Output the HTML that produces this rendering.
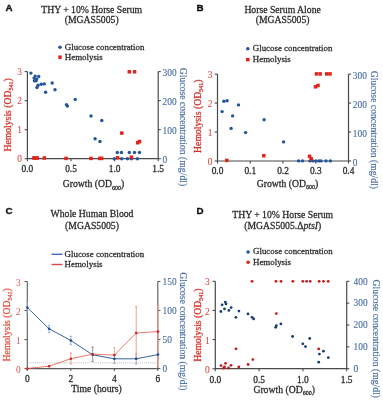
<!DOCTYPE html><html><head><meta charset="utf-8"><style>html,body{margin:0;padding:0;background:#fff;width:383px;height:400px;overflow:hidden}svg{display:block;filter:blur(0.35px)}</style></head><body><svg width="383" height="400" viewBox="0 0 383 400">
<rect width="383" height="400" fill="#fff"/>
<text x="5.6" y="11.200000000000001" font-size="9.8" text-anchor="start" fill="#111" stroke="#111" stroke-width="0.35" font-family='"Liberation Sans", sans-serif' font-weight="bold">A</text>
<text x="91.7" y="12.700000000000001" font-size="9.7" text-anchor="middle" fill="#2a2a2a" stroke="#2a2a2a" stroke-width="0.26" font-family='"Liberation Serif", serif' >THY + 10% Horse Serum</text>
<text x="91.7" y="23.4" font-size="9.7" text-anchor="middle" fill="#2a2a2a" stroke="#2a2a2a" stroke-width="0.26" font-family='"Liberation Serif", serif' >(MGAS5005)</text>
<circle cx="60" cy="47.300000000000004" r="1.8" fill="#21569c"/>
<rect x="58.25" y="55.45" width="3.5" height="3.5" fill="#e2231a"/>
<text x="64.8" y="49.7" font-size="8.9" text-anchor="start" fill="#2a2a2a" stroke="#2a2a2a" stroke-width="0.26" font-family='"Liberation Serif", serif' >Glucose concentration</text>
<text x="64.8" y="59.6" font-size="8.9" text-anchor="start" fill="#2a2a2a" stroke="#2a2a2a" stroke-width="0.26" font-family='"Liberation Serif", serif' >Hemolysis</text>
<path d="M27.4,71.6 V158.7 H158.2 V71.6" fill="none" stroke="#4a4a4a" stroke-width="1.2"/>
<line x1="24.599999999999998" y1="158.7" x2="27.4" y2="158.7" stroke="#4a4a4a" stroke-width="1.1"/>
<text x="21.9" y="162.4" font-size="9.4" text-anchor="end" fill="#dc4a42" stroke="#dc4a42" stroke-width="0.08" font-family='"Liberation Serif", serif' >0</text>
<line x1="24.599999999999998" y1="129.66666666666666" x2="27.4" y2="129.66666666666666" stroke="#4a4a4a" stroke-width="1.1"/>
<text x="21.9" y="133.36666666666667" font-size="9.4" text-anchor="end" fill="#dc4a42" stroke="#dc4a42" stroke-width="0.08" font-family='"Liberation Serif", serif' >1</text>
<line x1="24.599999999999998" y1="100.63333333333333" x2="27.4" y2="100.63333333333333" stroke="#4a4a4a" stroke-width="1.1"/>
<text x="21.9" y="104.33333333333333" font-size="9.4" text-anchor="end" fill="#dc4a42" stroke="#dc4a42" stroke-width="0.08" font-family='"Liberation Serif", serif' >2</text>
<line x1="24.599999999999998" y1="71.60000000000001" x2="27.4" y2="71.60000000000001" stroke="#4a4a4a" stroke-width="1.1"/>
<text x="21.9" y="75.30000000000001" font-size="9.4" text-anchor="end" fill="#dc4a42" stroke="#dc4a42" stroke-width="0.08" font-family='"Liberation Serif", serif' >3</text>
<line x1="158.2" y1="158.7" x2="160.79999999999998" y2="158.7" stroke="#4a4a4a" stroke-width="1.1"/>
<text x="162.5" y="163.0" font-size="9.4" text-anchor="start" fill="#41689f" stroke="#41689f" stroke-width="0.08" font-family='"Liberation Serif", serif' >0</text>
<line x1="158.2" y1="129.66666666666666" x2="160.79999999999998" y2="129.66666666666666" stroke="#4a4a4a" stroke-width="1.1"/>
<text x="162.5" y="133.96666666666667" font-size="9.4" text-anchor="start" fill="#41689f" stroke="#41689f" stroke-width="0.08" font-family='"Liberation Serif", serif' >100</text>
<line x1="158.2" y1="100.63333333333333" x2="160.79999999999998" y2="100.63333333333333" stroke="#4a4a4a" stroke-width="1.1"/>
<text x="162.5" y="104.93333333333332" font-size="9.4" text-anchor="start" fill="#41689f" stroke="#41689f" stroke-width="0.08" font-family='"Liberation Serif", serif' >200</text>
<line x1="158.2" y1="71.60000000000001" x2="160.79999999999998" y2="71.60000000000001" stroke="#4a4a4a" stroke-width="1.1"/>
<text x="162.5" y="75.9" font-size="9.4" text-anchor="start" fill="#41689f" stroke="#41689f" stroke-width="0.08" font-family='"Liberation Serif", serif' >300</text>
<line x1="27.4" y1="158.7" x2="27.4" y2="161.2" stroke="#4a4a4a" stroke-width="1.1"/>
<text x="27.4" y="172.4" font-size="9.4" text-anchor="middle" fill="#2a2a2a" stroke="#2a2a2a" stroke-width="0.26" font-family='"Liberation Serif", serif' >0.0</text>
<line x1="71.0" y1="158.7" x2="71.0" y2="161.2" stroke="#4a4a4a" stroke-width="1.1"/>
<text x="71.0" y="172.4" font-size="9.4" text-anchor="middle" fill="#2a2a2a" stroke="#2a2a2a" stroke-width="0.26" font-family='"Liberation Serif", serif' >0.5</text>
<line x1="114.6" y1="158.7" x2="114.6" y2="161.2" stroke="#4a4a4a" stroke-width="1.1"/>
<text x="114.6" y="172.4" font-size="9.4" text-anchor="middle" fill="#2a2a2a" stroke="#2a2a2a" stroke-width="0.26" font-family='"Liberation Serif", serif' >1.0</text>
<line x1="158.2" y1="158.7" x2="158.2" y2="161.2" stroke="#4a4a4a" stroke-width="1.1"/>
<text x="158.2" y="172.4" font-size="9.4" text-anchor="middle" fill="#2a2a2a" stroke="#2a2a2a" stroke-width="0.26" font-family='"Liberation Serif", serif' >1.5</text>
<text x="62.7" y="186.9" font-size="9.7" text-anchor="start" fill="#2a2a2a" stroke="#2a2a2a" stroke-width="0.26" font-family='"Liberation Serif", serif' >Growth (OD<tspan font-size="6" dy="2.9">600</tspan><tspan dy="-2.9">)</tspan></text>
<text transform="translate(11.0,151.6) rotate(-90)" font-size="9.7" fill="#d83028" stroke="#d83028" stroke-width="0.26" font-family='"Liberation Serif", serif'>Hemolysis (OD<tspan font-size="6" dy="2.2">541</tspan><tspan dy="-2.2">)</tspan></text>
<text transform="translate(180.4,67.8) rotate(90)" font-size="9.7" fill="#41689f" stroke="#41689f" stroke-width="0.12" font-family='"Liberation Serif", serif'>Glucose concentration (mg/dl)</text>
<text x="196.60000000000002" y="11.200000000000001" font-size="9.8" text-anchor="start" fill="#111" stroke="#111" stroke-width="0.35" font-family='"Liberation Sans", sans-serif' font-weight="bold">B</text>
<text x="282.6" y="12.700000000000001" font-size="9.7" text-anchor="middle" fill="#2a2a2a" stroke="#2a2a2a" stroke-width="0.26" font-family='"Liberation Serif", serif' >Horse Serum Alone</text>
<text x="282.6" y="23.4" font-size="9.7" text-anchor="middle" fill="#2a2a2a" stroke="#2a2a2a" stroke-width="0.26" font-family='"Liberation Serif", serif' >(MGAS5005)</text>
<circle cx="247.8" cy="48.7" r="1.8" fill="#21569c"/>
<rect x="246.05" y="57.85" width="3.5" height="3.5" fill="#e2231a"/>
<text x="252.8" y="51.1" font-size="8.9" text-anchor="start" fill="#2a2a2a" stroke="#2a2a2a" stroke-width="0.26" font-family='"Liberation Serif", serif' >Glucose concentration</text>
<text x="252.8" y="62" font-size="8.9" text-anchor="start" fill="#2a2a2a" stroke="#2a2a2a" stroke-width="0.26" font-family='"Liberation Serif", serif' >Hemolysis</text>
<path d="M217.5,74.1 V161 H348.5 V74.1" fill="none" stroke="#4a4a4a" stroke-width="1.2"/>
<line x1="214.7" y1="161.0" x2="217.5" y2="161.0" stroke="#4a4a4a" stroke-width="1.1"/>
<text x="212.4" y="165.10000000000002" font-size="9.4" text-anchor="end" fill="#dc4a42" stroke="#dc4a42" stroke-width="0.08" font-family='"Liberation Serif", serif' >0</text>
<line x1="214.7" y1="132.03333333333333" x2="217.5" y2="132.03333333333333" stroke="#4a4a4a" stroke-width="1.1"/>
<text x="212.4" y="136.13333333333335" font-size="9.4" text-anchor="end" fill="#dc4a42" stroke="#dc4a42" stroke-width="0.08" font-family='"Liberation Serif", serif' >1</text>
<line x1="214.7" y1="103.06666666666666" x2="217.5" y2="103.06666666666666" stroke="#4a4a4a" stroke-width="1.1"/>
<text x="212.4" y="107.16666666666666" font-size="9.4" text-anchor="end" fill="#dc4a42" stroke="#dc4a42" stroke-width="0.08" font-family='"Liberation Serif", serif' >2</text>
<line x1="214.7" y1="74.09999999999998" x2="217.5" y2="74.09999999999998" stroke="#4a4a4a" stroke-width="1.1"/>
<text x="212.4" y="78.19999999999997" font-size="9.4" text-anchor="end" fill="#dc4a42" stroke="#dc4a42" stroke-width="0.08" font-family='"Liberation Serif", serif' >3</text>
<line x1="348.5" y1="161.0" x2="351.1" y2="161.0" stroke="#4a4a4a" stroke-width="1.1"/>
<text x="352.8" y="166.3" font-size="9.4" text-anchor="start" fill="#41689f" stroke="#41689f" stroke-width="0.08" font-family='"Liberation Serif", serif' >0</text>
<line x1="348.5" y1="132.03333333333333" x2="351.1" y2="132.03333333333333" stroke="#4a4a4a" stroke-width="1.1"/>
<text x="352.8" y="137.33333333333334" font-size="9.4" text-anchor="start" fill="#41689f" stroke="#41689f" stroke-width="0.08" font-family='"Liberation Serif", serif' >100</text>
<line x1="348.5" y1="103.06666666666666" x2="351.1" y2="103.06666666666666" stroke="#4a4a4a" stroke-width="1.1"/>
<text x="352.8" y="108.36666666666666" font-size="9.4" text-anchor="start" fill="#41689f" stroke="#41689f" stroke-width="0.08" font-family='"Liberation Serif", serif' >200</text>
<line x1="348.5" y1="74.09999999999998" x2="351.1" y2="74.09999999999998" stroke="#4a4a4a" stroke-width="1.1"/>
<text x="352.8" y="79.39999999999998" font-size="9.4" text-anchor="start" fill="#41689f" stroke="#41689f" stroke-width="0.08" font-family='"Liberation Serif", serif' >300</text>
<line x1="217.5" y1="161" x2="217.5" y2="163.5" stroke="#4a4a4a" stroke-width="1.1"/>
<text x="217.5" y="174.1" font-size="9.4" text-anchor="middle" fill="#2a2a2a" stroke="#2a2a2a" stroke-width="0.26" font-family='"Liberation Serif", serif' >0.0</text>
<line x1="250.25" y1="161" x2="250.25" y2="163.5" stroke="#4a4a4a" stroke-width="1.1"/>
<text x="250.25" y="174.1" font-size="9.4" text-anchor="middle" fill="#2a2a2a" stroke="#2a2a2a" stroke-width="0.26" font-family='"Liberation Serif", serif' >0.1</text>
<line x1="283.0" y1="161" x2="283.0" y2="163.5" stroke="#4a4a4a" stroke-width="1.1"/>
<text x="283.0" y="174.1" font-size="9.4" text-anchor="middle" fill="#2a2a2a" stroke="#2a2a2a" stroke-width="0.26" font-family='"Liberation Serif", serif' >0.2</text>
<line x1="315.75" y1="161" x2="315.75" y2="163.5" stroke="#4a4a4a" stroke-width="1.1"/>
<text x="315.75" y="174.1" font-size="9.4" text-anchor="middle" fill="#2a2a2a" stroke="#2a2a2a" stroke-width="0.26" font-family='"Liberation Serif", serif' >0.3</text>
<line x1="348.5" y1="161" x2="348.5" y2="163.5" stroke="#4a4a4a" stroke-width="1.1"/>
<text x="348.5" y="174.1" font-size="9.4" text-anchor="middle" fill="#2a2a2a" stroke="#2a2a2a" stroke-width="0.26" font-family='"Liberation Serif", serif' >0.4</text>
<text x="256.8" y="186.5" font-size="9.7" text-anchor="start" fill="#2a2a2a" stroke="#2a2a2a" stroke-width="0.26" font-family='"Liberation Serif", serif' >Growth (OD<tspan font-size="6" dy="2.9">600</tspan><tspan dy="-2.9">)</tspan></text>
<text transform="translate(200.9,152.9) rotate(-90)" font-size="9.7" fill="#d0302a" stroke="#d0302a" stroke-width="0.26" font-family='"Liberation Serif", serif'>Hemolysis (OD<tspan font-size="6" dy="2.2">541</tspan><tspan dy="-2.2">)</tspan></text>
<text transform="translate(371.0,70.7) rotate(90)" font-size="9.7" fill="#41689f" stroke="#41689f" stroke-width="0.12" font-family='"Liberation Serif", serif'>Glucose concentration (mg/dl)</text>
<text x="5.6" y="214.4" font-size="9.8" text-anchor="start" fill="#111" stroke="#111" stroke-width="0.35" font-family='"Liberation Sans", sans-serif' font-weight="bold">C</text>
<text x="92" y="217.4" font-size="9.7" text-anchor="middle" fill="#2a2a2a" stroke="#2a2a2a" stroke-width="0.26" font-family='"Liberation Serif", serif' >Whole Human Blood</text>
<text x="92" y="228.6" font-size="9.7" text-anchor="middle" fill="#2a2a2a" stroke="#2a2a2a" stroke-width="0.26" font-family='"Liberation Serif", serif' >(MGAS5005)</text>
<line x1="51.5" y1="254.29999999999998" x2="62.5" y2="254.29999999999998" stroke="#3a6cb8" stroke-width="1.4"/>
<line x1="51.5" y1="264.5" x2="62.5" y2="264.5" stroke="#e2464a" stroke-width="1.4"/>
<text x="64.6" y="257.2" font-size="8.9" text-anchor="start" fill="#2a2a2a" stroke="#2a2a2a" stroke-width="0.26" font-family='"Liberation Serif", serif' >Glucose concentration</text>
<text x="64.6" y="267.4" font-size="8.9" text-anchor="start" fill="#2a2a2a" stroke="#2a2a2a" stroke-width="0.26" font-family='"Liberation Serif", serif' >Hemolysis</text>
<path d="M27.3,281.5 V368.6 H157.8 V281.5" fill="none" stroke="#5a5a5a" stroke-width="1.1"/>
<line x1="24.5" y1="368.6" x2="27.3" y2="368.6" stroke="#5a5a5a" stroke-width="1.1"/>
<text x="20.8" y="372.70000000000005" font-size="9.4" text-anchor="end" fill="#d8625a" stroke="#d8625a" stroke-width="0.05" font-family='"Liberation Serif", serif' >0</text>
<line x1="24.5" y1="339.56666666666666" x2="27.3" y2="339.56666666666666" stroke="#5a5a5a" stroke-width="1.1"/>
<text x="20.8" y="343.6666666666667" font-size="9.4" text-anchor="end" fill="#d8625a" stroke="#d8625a" stroke-width="0.05" font-family='"Liberation Serif", serif' >1</text>
<line x1="24.5" y1="310.53333333333336" x2="27.3" y2="310.53333333333336" stroke="#5a5a5a" stroke-width="1.1"/>
<text x="20.8" y="314.6333333333334" font-size="9.4" text-anchor="end" fill="#d8625a" stroke="#d8625a" stroke-width="0.05" font-family='"Liberation Serif", serif' >2</text>
<line x1="24.5" y1="281.5" x2="27.3" y2="281.5" stroke="#5a5a5a" stroke-width="1.1"/>
<text x="20.8" y="285.6" font-size="9.4" text-anchor="end" fill="#d8625a" stroke="#d8625a" stroke-width="0.05" font-family='"Liberation Serif", serif' >3</text>
<line x1="157.8" y1="368.6" x2="160.4" y2="368.6" stroke="#5a5a5a" stroke-width="1.1"/>
<text x="162.60000000000002" y="372.1" font-size="9.4" text-anchor="start" fill="#41689f" stroke="#41689f" stroke-width="0.08" font-family='"Liberation Serif", serif' >0</text>
<line x1="157.8" y1="339.56666666666666" x2="160.4" y2="339.56666666666666" stroke="#5a5a5a" stroke-width="1.1"/>
<text x="162.60000000000002" y="343.06666666666666" font-size="9.4" text-anchor="start" fill="#41689f" stroke="#41689f" stroke-width="0.08" font-family='"Liberation Serif", serif' >50</text>
<line x1="157.8" y1="310.53333333333336" x2="160.4" y2="310.53333333333336" stroke="#5a5a5a" stroke-width="1.1"/>
<text x="162.60000000000002" y="314.03333333333336" font-size="9.4" text-anchor="start" fill="#41689f" stroke="#41689f" stroke-width="0.08" font-family='"Liberation Serif", serif' >100</text>
<line x1="157.8" y1="281.5" x2="160.4" y2="281.5" stroke="#5a5a5a" stroke-width="1.1"/>
<text x="162.60000000000002" y="285.0" font-size="9.4" text-anchor="start" fill="#41689f" stroke="#41689f" stroke-width="0.08" font-family='"Liberation Serif", serif' >150</text>
<line x1="27.3" y1="368.6" x2="27.3" y2="371.1" stroke="#5a5a5a" stroke-width="1.1"/>
<text x="27.3" y="382.3" font-size="9.4" text-anchor="middle" fill="#2a2a2a" stroke="#2a2a2a" stroke-width="0.26" font-family='"Liberation Serif", serif' >0</text>
<line x1="70.8" y1="368.6" x2="70.8" y2="371.1" stroke="#5a5a5a" stroke-width="1.1"/>
<text x="70.8" y="382.3" font-size="9.4" text-anchor="middle" fill="#2a2a2a" stroke="#2a2a2a" stroke-width="0.26" font-family='"Liberation Serif", serif' >2</text>
<line x1="114.3" y1="368.6" x2="114.3" y2="371.1" stroke="#5a5a5a" stroke-width="1.1"/>
<text x="114.3" y="382.3" font-size="9.4" text-anchor="middle" fill="#2a2a2a" stroke="#2a2a2a" stroke-width="0.26" font-family='"Liberation Serif", serif' >4</text>
<line x1="157.8" y1="368.6" x2="157.8" y2="371.1" stroke="#5a5a5a" stroke-width="1.1"/>
<text x="157.8" y="382.3" font-size="9.4" text-anchor="middle" fill="#2a2a2a" stroke="#2a2a2a" stroke-width="0.26" font-family='"Liberation Serif", serif' >6</text>
<text x="71.2" y="392.2" font-size="9.7" text-anchor="start" fill="#2a2a2a" stroke="#2a2a2a" stroke-width="0.26" font-family='"Liberation Serif", serif' >Time (hours)</text>
<text transform="translate(10.2,361.6) rotate(-90)" font-size="9.7" fill="#e25444" stroke="#e25444" stroke-width="0.26" font-family='"Liberation Serif", serif'>Hemolysis (OD<tspan font-size="6" dy="2.2">541</tspan><tspan dy="-2.2">)</tspan></text>
<text transform="translate(179.5,272.2) rotate(90)" font-size="9.7" fill="#41689f" stroke="#41689f" stroke-width="0.12" font-family='"Liberation Serif", serif'>Glucose concentration (mg/dl)</text>
<text x="196.60000000000002" y="214.4" font-size="9.8" text-anchor="start" fill="#111" stroke="#111" stroke-width="0.35" font-family='"Liberation Sans", sans-serif' font-weight="bold">D</text>
<text x="282.7" y="218.20000000000002" font-size="9.7" text-anchor="middle" fill="#2a2a2a" stroke="#2a2a2a" stroke-width="0.26" font-family='"Liberation Serif", serif' >THY + 10% Horse Serum</text>
<text x="282.7" y="228.6" font-size="9.7" text-anchor="middle" fill="#2a2a2a" stroke="#2a2a2a" stroke-width="0.26" font-family='"Liberation Serif", serif' >(MGAS5005.&#916;<tspan font-style="italic">ptsI</tspan>)</text>
<circle cx="248.1" cy="252.0" r="1.8" fill="#21569c"/>
<circle cx="248.1" cy="262.20000000000005" r="1.8" fill="#e2231a"/>
<text x="253" y="254.4" font-size="8.9" text-anchor="start" fill="#2a2a2a" stroke="#2a2a2a" stroke-width="0.26" font-family='"Liberation Serif", serif' >Glucose concentration</text>
<text x="253" y="264.6" font-size="8.9" text-anchor="start" fill="#2a2a2a" stroke="#2a2a2a" stroke-width="0.26" font-family='"Liberation Serif", serif' >Hemolysis</text>
<path d="M215.3,281.3 V368.7 H346.7 V281.3" fill="none" stroke="#4a4a4a" stroke-width="1.2"/>
<line x1="212.5" y1="368.7" x2="215.3" y2="368.7" stroke="#4a4a4a" stroke-width="1.1"/>
<text x="209.8" y="372.8" font-size="9.4" text-anchor="end" fill="#dc4a42" stroke="#dc4a42" stroke-width="0.08" font-family='"Liberation Serif", serif' >0</text>
<line x1="212.5" y1="339.56666666666666" x2="215.3" y2="339.56666666666666" stroke="#4a4a4a" stroke-width="1.1"/>
<text x="209.8" y="343.6666666666667" font-size="9.4" text-anchor="end" fill="#dc4a42" stroke="#dc4a42" stroke-width="0.08" font-family='"Liberation Serif", serif' >1</text>
<line x1="212.5" y1="310.43333333333334" x2="215.3" y2="310.43333333333334" stroke="#4a4a4a" stroke-width="1.1"/>
<text x="209.8" y="314.53333333333336" font-size="9.4" text-anchor="end" fill="#dc4a42" stroke="#dc4a42" stroke-width="0.08" font-family='"Liberation Serif", serif' >2</text>
<line x1="212.5" y1="281.3" x2="215.3" y2="281.3" stroke="#4a4a4a" stroke-width="1.1"/>
<text x="209.8" y="285.40000000000003" font-size="9.4" text-anchor="end" fill="#dc4a42" stroke="#dc4a42" stroke-width="0.08" font-family='"Liberation Serif", serif' >3</text>
<line x1="346.7" y1="368.7" x2="349.3" y2="368.7" stroke="#4a4a4a" stroke-width="1.1"/>
<text x="353.59999999999997" y="372.0" font-size="9.4" text-anchor="start" fill="#41689f" stroke="#41689f" stroke-width="0.08" font-family='"Liberation Serif", serif' >0</text>
<line x1="346.7" y1="346.85" x2="349.3" y2="346.85" stroke="#4a4a4a" stroke-width="1.1"/>
<text x="353.59999999999997" y="350.15000000000003" font-size="9.4" text-anchor="start" fill="#41689f" stroke="#41689f" stroke-width="0.08" font-family='"Liberation Serif", serif' >100</text>
<line x1="346.7" y1="325.0" x2="349.3" y2="325.0" stroke="#4a4a4a" stroke-width="1.1"/>
<text x="353.59999999999997" y="328.3" font-size="9.4" text-anchor="start" fill="#41689f" stroke="#41689f" stroke-width="0.08" font-family='"Liberation Serif", serif' >200</text>
<line x1="346.7" y1="303.15" x2="349.3" y2="303.15" stroke="#4a4a4a" stroke-width="1.1"/>
<text x="353.59999999999997" y="306.45" font-size="9.4" text-anchor="start" fill="#41689f" stroke="#41689f" stroke-width="0.08" font-family='"Liberation Serif", serif' >300</text>
<line x1="346.7" y1="281.3" x2="349.3" y2="281.3" stroke="#4a4a4a" stroke-width="1.1"/>
<text x="353.59999999999997" y="284.6" font-size="9.4" text-anchor="start" fill="#41689f" stroke="#41689f" stroke-width="0.08" font-family='"Liberation Serif", serif' >400</text>
<line x1="215.3" y1="368.7" x2="215.3" y2="371.2" stroke="#4a4a4a" stroke-width="1.1"/>
<text x="215.3" y="382.6" font-size="9.4" text-anchor="middle" fill="#2a2a2a" stroke="#2a2a2a" stroke-width="0.26" font-family='"Liberation Serif", serif' >0.0</text>
<line x1="259.1" y1="368.7" x2="259.1" y2="371.2" stroke="#4a4a4a" stroke-width="1.1"/>
<text x="259.1" y="382.6" font-size="9.4" text-anchor="middle" fill="#2a2a2a" stroke="#2a2a2a" stroke-width="0.26" font-family='"Liberation Serif", serif' >0.5</text>
<line x1="302.9" y1="368.7" x2="302.9" y2="371.2" stroke="#4a4a4a" stroke-width="1.1"/>
<text x="302.9" y="382.6" font-size="9.4" text-anchor="middle" fill="#2a2a2a" stroke="#2a2a2a" stroke-width="0.26" font-family='"Liberation Serif", serif' >1.0</text>
<line x1="346.7" y1="368.7" x2="346.7" y2="371.2" stroke="#4a4a4a" stroke-width="1.1"/>
<text x="346.7" y="382.6" font-size="9.4" text-anchor="middle" fill="#2a2a2a" stroke="#2a2a2a" stroke-width="0.26" font-family='"Liberation Serif", serif' >1.5</text>
<text x="253.4" y="392.5" font-size="9.7" text-anchor="start" fill="#2a2a2a" stroke="#2a2a2a" stroke-width="0.26" font-family='"Liberation Serif", serif' >Growth (OD<tspan font-size="6" dy="2.9">600</tspan><tspan dy="-2.9">)</tspan></text>
<text transform="translate(200.6,361.8) rotate(-90)" font-size="9.7" fill="#d83028" stroke="#d83028" stroke-width="0.26" font-family='"Liberation Serif", serif'>Hemolysis (OD<tspan font-size="6" dy="2.2">541</tspan><tspan dy="-2.2">)</tspan></text>
<text transform="translate(372.6,279.6) rotate(90)" font-size="9.7" fill="#41689f" stroke="#41689f" stroke-width="0.12" font-family='"Liberation Serif", serif'>Glucose concentration (mg/dl)</text>
<circle cx="30.9" cy="73.1" r="1.7" fill="#21569c"/>
<circle cx="35.2" cy="76.1" r="1.7" fill="#21569c"/>
<circle cx="38.7" cy="76.5" r="1.7" fill="#21569c"/>
<circle cx="34.1" cy="78.1" r="1.7" fill="#21569c"/>
<circle cx="36.7" cy="79.1" r="1.7" fill="#21569c"/>
<circle cx="34.4" cy="80.7" r="1.7" fill="#21569c"/>
<circle cx="36.1" cy="80.7" r="1.7" fill="#21569c"/>
<circle cx="38.1" cy="85.2" r="1.7" fill="#21569c"/>
<circle cx="37" cy="87.5" r="1.7" fill="#21569c"/>
<circle cx="41.3" cy="84.3" r="1.7" fill="#21569c"/>
<circle cx="44.3" cy="83.9" r="1.7" fill="#21569c"/>
<circle cx="52.2" cy="83" r="1.7" fill="#21569c"/>
<circle cx="55" cy="89.8" r="1.7" fill="#21569c"/>
<circle cx="45.6" cy="92.2" r="1.7" fill="#21569c"/>
<circle cx="66.5" cy="104.8" r="1.7" fill="#21569c"/>
<circle cx="67.4" cy="106.1" r="1.7" fill="#21569c"/>
<circle cx="75.2" cy="99.4" r="1.7" fill="#21569c"/>
<circle cx="91" cy="116" r="1.7" fill="#21569c"/>
<circle cx="101.8" cy="120.5" r="1.7" fill="#21569c"/>
<circle cx="95.1" cy="138.8" r="1.7" fill="#21569c"/>
<circle cx="100" cy="141.5" r="1.7" fill="#21569c"/>
<circle cx="117.3" cy="152.5" r="1.7" fill="#21569c"/>
<circle cx="121.5" cy="152.5" r="1.7" fill="#21569c"/>
<circle cx="129.3" cy="152.5" r="1.7" fill="#21569c"/>
<circle cx="134.5" cy="152.5" r="1.7" fill="#21569c"/>
<circle cx="139.5" cy="152.5" r="1.7" fill="#21569c"/>
<circle cx="114.2" cy="158.7" r="1.7" fill="#21569c"/>
<circle cx="121.7" cy="158.7" r="1.7" fill="#21569c"/>
<circle cx="127.5" cy="158.7" r="1.7" fill="#21569c"/>
<circle cx="131.4" cy="158.7" r="1.7" fill="#21569c"/>
<circle cx="137.4" cy="158.7" r="1.7" fill="#21569c"/>
<rect x="127.55" y="70.05" width="3.5" height="3.5" fill="#e2231a"/>
<rect x="132.85" y="70.05" width="3.5" height="3.5" fill="#e2231a"/>
<rect x="120.05" y="131.35" width="3.5" height="3.5" fill="#e2231a"/>
<rect x="135.95" y="140.95" width="3.5" height="3.5" fill="#e2231a"/>
<rect x="137.75" y="139.75" width="3.5" height="3.5" fill="#e2231a"/>
<rect x="32.05" y="156.25" width="3.5" height="3.5" fill="#e2231a"/>
<rect x="33.85" y="156.25" width="3.5" height="3.5" fill="#e2231a"/>
<rect x="35.55" y="156.25" width="3.5" height="3.5" fill="#e2231a"/>
<rect x="42.55" y="156.25" width="3.5" height="3.5" fill="#e2231a"/>
<rect x="64.25" y="156.65" width="3.5" height="3.5" fill="#e2231a"/>
<rect x="89.25" y="156.65" width="3.5" height="3.5" fill="#e2231a"/>
<rect x="97.95" y="156.65" width="3.5" height="3.5" fill="#e2231a"/>
<rect x="99.95" y="156.65" width="3.5" height="3.5" fill="#e2231a"/>
<rect x="115.75" y="156.05" width="3.5" height="3.5" fill="#e2231a"/>
<rect x="129.65" y="155.45" width="3.5" height="3.5" fill="#e2231a"/>
<circle cx="223.9" cy="101.3" r="1.7" fill="#21569c"/>
<circle cx="227.1" cy="100.7" r="1.7" fill="#21569c"/>
<circle cx="238.5" cy="104.9" r="1.7" fill="#21569c"/>
<circle cx="222.1" cy="111.6" r="1.7" fill="#21569c"/>
<circle cx="232.6" cy="115.9" r="1.7" fill="#21569c"/>
<circle cx="264.1" cy="119.8" r="1.7" fill="#21569c"/>
<circle cx="231.1" cy="128.4" r="1.7" fill="#21569c"/>
<circle cx="245.6" cy="132.6" r="1.7" fill="#21569c"/>
<circle cx="283.6" cy="141.9" r="1.7" fill="#21569c"/>
<circle cx="298.6" cy="160.9" r="1.7" fill="#21569c"/>
<circle cx="302.5" cy="160.9" r="1.7" fill="#21569c"/>
<circle cx="310" cy="160.9" r="1.7" fill="#21569c"/>
<circle cx="313" cy="160.9" r="1.7" fill="#21569c"/>
<circle cx="316" cy="160.9" r="1.7" fill="#21569c"/>
<circle cx="319" cy="160.9" r="1.7" fill="#21569c"/>
<circle cx="321" cy="160.9" r="1.7" fill="#21569c"/>
<circle cx="326" cy="160.9" r="1.7" fill="#21569c"/>
<circle cx="330.4" cy="160.9" r="1.7" fill="#21569c"/>
<rect x="314.75" y="72.15" width="3.5" height="3.5" fill="#e2231a"/>
<rect x="318.45" y="72.15" width="3.5" height="3.5" fill="#e2231a"/>
<rect x="324.95" y="72.15" width="3.5" height="3.5" fill="#e2231a"/>
<rect x="328.25" y="72.15" width="3.5" height="3.5" fill="#e2231a"/>
<rect x="313.75" y="85.05" width="3.5" height="3.5" fill="#e2231a"/>
<rect x="316.25" y="83.75" width="3.5" height="3.5" fill="#e2231a"/>
<rect x="225.05" y="158.65" width="3.5" height="3.5" fill="#e2231a"/>
<rect x="262.05" y="153.95" width="3.5" height="3.5" fill="#e2231a"/>
<rect x="307.85" y="154.55" width="3.5" height="3.5" fill="#e2231a"/>
<rect x="309.45" y="157.05" width="3.5" height="3.5" fill="#e2231a"/>
<line x1="28.5" y1="362.9" x2="157.8" y2="362.9" stroke="#aeb2c0" stroke-width="0.95" stroke-dasharray="1,1.1"/>
<path d="M27.30,301.3 V313.8 M26.20,301.3 H28.40 M26.20,313.8 H28.40" stroke="#8fa3bf" stroke-width="0.9" fill="none"/>
<path d="M49.08,325.3 V332.6 M47.98,325.3 H50.18 M47.98,332.6 H50.18" stroke="#86aee0" stroke-width="0.9" fill="none"/>
<path d="M70.86,336.3 V344.7 M69.76,336.3 H71.96 M69.76,344.7 H71.96" stroke="#86aee0" stroke-width="0.9" fill="none"/>
<path d="M92.64,346.9 V361.5 M91.54,346.9 H93.74 M91.54,361.5 H93.74" stroke="#8a8a8a" stroke-width="0.9" fill="none"/>
<path d="M114.42,355 V363.5 M113.32,355 H115.52 M113.32,363.5 H115.52" stroke="#9aa4b4" stroke-width="0.9" fill="none"/>
<path d="M114.42,347.6 V355 M113.32,347.6 H115.52 M113.32,355 H115.52" stroke="#e8a096" stroke-width="0.9" fill="none"/>
<path d="M136.20,353.8 V364 M135.10,353.8 H137.30 M135.10,364 H137.30" stroke="#9aa4b4" stroke-width="0.9" fill="none"/>
<path d="M70.86,353 V364 M69.76,353 H71.96 M69.76,364 H71.96" stroke="#eb9488" stroke-width="0.9" fill="none"/>
<path d="M136.20,306.6 V359.4 M135.10,306.6 H137.30 M135.10,359.4 H137.30" stroke="#ec9084" stroke-width="0.9" fill="none"/>
<path d="M157.98,306 V366 M156.88,306 H159.08 M156.88,366 H159.08" stroke="#eb9a90" stroke-width="1.2" fill="none"/>
<polyline points="27.30,307.5 49.08,328.8 70.86,340.5 92.64,354.8 114.42,358.8 136.20,358.8 157.98,354.6" fill="none" stroke="#2b5a96" stroke-width="0.95"/>
<polyline points="27.30,368.5 49.08,366.2 70.86,358.7 92.64,354.2 114.42,355.1 136.20,333 157.98,331.6" fill="none" stroke="#e6604e" stroke-width="0.85"/>
<circle cx="27.30" cy="307.5" r="1.3" fill="#1f4e8c"/>
<circle cx="49.08" cy="328.8" r="1.3" fill="#1f4e8c"/>
<circle cx="70.86" cy="340.5" r="1.3" fill="#1f4e8c"/>
<circle cx="92.64" cy="354.8" r="1.3" fill="#1f4e8c"/>
<circle cx="114.42" cy="358.8" r="1.3" fill="#1f4e8c"/>
<circle cx="136.20" cy="358.8" r="1.3" fill="#1f4e8c"/>
<circle cx="157.98" cy="354.6" r="1.3" fill="#1f4e8c"/>
<circle cx="27.30" cy="368.5" r="1.3" fill="#d42020"/>
<circle cx="49.08" cy="366.2" r="1.3" fill="#d42020"/>
<circle cx="70.86" cy="358.7" r="1.3" fill="#d42020"/>
<circle cx="92.64" cy="354.2" r="1.3" fill="#d42020"/>
<circle cx="114.42" cy="355.1" r="1.3" fill="#d42020"/>
<circle cx="136.20" cy="333" r="1.3" fill="#d42020"/>
<circle cx="157.98" cy="331.6" r="1.3" fill="#d42020"/>
<circle cx="222.1" cy="304.8" r="1.4" fill="#173d72"/>
<circle cx="225.3" cy="302.1" r="1.4" fill="#173d72"/>
<circle cx="226" cy="303.9" r="1.4" fill="#173d72"/>
<circle cx="224.5" cy="308.9" r="1.4" fill="#173d72"/>
<circle cx="220.9" cy="311.5" r="1.4" fill="#173d72"/>
<circle cx="228.9" cy="310.4" r="1.4" fill="#173d72"/>
<circle cx="231.1" cy="307.6" r="1.4" fill="#173d72"/>
<circle cx="238.9" cy="311.1" r="1.4" fill="#173d72"/>
<circle cx="235.9" cy="317.3" r="1.4" fill="#173d72"/>
<circle cx="248" cy="313.9" r="1.4" fill="#173d72"/>
<circle cx="252.1" cy="317.3" r="1.4" fill="#173d72"/>
<circle cx="253.6" cy="318.9" r="1.4" fill="#173d72"/>
<circle cx="276.3" cy="325.7" r="1.4" fill="#173d72"/>
<circle cx="275.7" cy="327.3" r="1.4" fill="#173d72"/>
<circle cx="280.9" cy="323.9" r="1.4" fill="#173d72"/>
<circle cx="292.6" cy="336.5" r="1.4" fill="#173d72"/>
<circle cx="302.8" cy="343.8" r="1.4" fill="#173d72"/>
<circle cx="305.5" cy="346.6" r="1.4" fill="#173d72"/>
<circle cx="309.7" cy="338.5" r="1.4" fill="#173d72"/>
<circle cx="319.4" cy="354.1" r="1.4" fill="#173d72"/>
<circle cx="323.4" cy="351.2" r="1.4" fill="#173d72"/>
<circle cx="328.3" cy="357.6" r="1.4" fill="#173d72"/>
<circle cx="318.7" cy="362.2" r="1.4" fill="#173d72"/>
<circle cx="252.1" cy="281.3" r="1.4" fill="#c41a20"/>
<circle cx="276" cy="281.3" r="1.4" fill="#c41a20"/>
<circle cx="281" cy="281.3" r="1.4" fill="#c41a20"/>
<circle cx="292.8" cy="281.3" r="1.4" fill="#c41a20"/>
<circle cx="302.8" cy="281.3" r="1.4" fill="#c41a20"/>
<circle cx="306.6" cy="281.3" r="1.4" fill="#c41a20"/>
<circle cx="310.2" cy="281.3" r="1.4" fill="#c41a20"/>
<circle cx="319.1" cy="281.3" r="1.4" fill="#c41a20"/>
<circle cx="323.5" cy="281.3" r="1.4" fill="#c41a20"/>
<circle cx="328.2" cy="281.3" r="1.4" fill="#c41a20"/>
<circle cx="276.3" cy="313.6" r="1.4" fill="#c41a20"/>
<circle cx="318.7" cy="348.9" r="1.4" fill="#c41a20"/>
<circle cx="221" cy="365.6" r="1.4" fill="#c41a20"/>
<circle cx="225.5" cy="363.3" r="1.4" fill="#c41a20"/>
<circle cx="224.5" cy="367" r="1.4" fill="#c41a20"/>
<circle cx="223.6" cy="368.2" r="1.4" fill="#c41a20"/>
<circle cx="228.6" cy="368" r="1.4" fill="#c41a20"/>
<circle cx="231" cy="365.3" r="1.4" fill="#c41a20"/>
<circle cx="238.8" cy="367" r="1.4" fill="#c41a20"/>
<circle cx="236" cy="348.8" r="1.4" fill="#c41a20"/>
<circle cx="248.1" cy="364.5" r="1.4" fill="#c41a20"/>
<circle cx="252.9" cy="359.6" r="1.4" fill="#c41a20"/>
</svg></body></html>
